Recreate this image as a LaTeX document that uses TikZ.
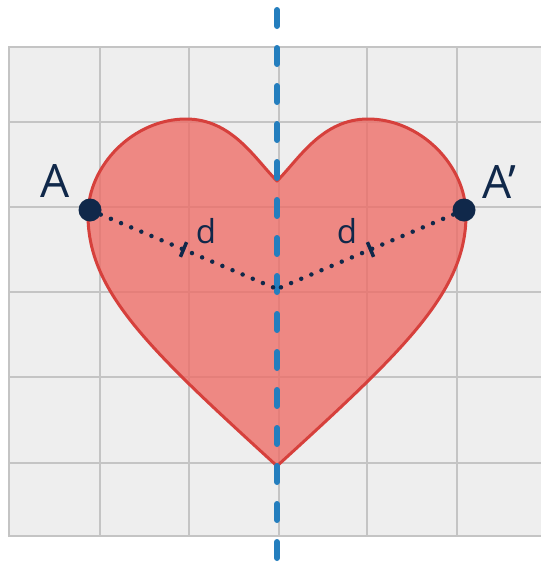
\documentclass[tikz,border=0pt]{standalone}
\usepackage{fontspec}
\setmainfont{Open Sans}
\usetikzlibrary{calc}
\definecolor{gridbg}{RGB}{238,238,238}
\definecolor{gridc}{RGB}{196,196,196}
\definecolor{heartfill}{RGB}{238,108,102}
\definecolor{heartline}{RGB}{214,64,60}
\definecolor{axisblue}{RGB}{36,126,190}
\definecolor{navy}{RGB}{16,40,74}
\begin{document}
\begin{tikzpicture}[x=1pt,y=-1pt,
  gridline/.style={draw=gridc, line width=1.8pt},
  heartstyle/.style={fill=heartfill, fill opacity=0.78, draw=heartline, draw opacity=1, line width=3pt, line join=round},
  axisline/.style={draw=axisblue, line width=6pt, line cap=round, dash pattern=on 16pt off 22pt},
  dotline/.style={draw=navy, line width=4.5pt, line cap=round, dash pattern=on 0pt off 11pt},
  ptstyle/.style={circle, fill=navy, inner sep=0pt, minimum size=23pt},
  tickmark/.style={draw=navy, line width=3.5pt},
  biglabel/.style={text=navy, inner sep=0pt, font=\fontsize{46}{50}\selectfont},
  dlabel/.style={text=navy, inner sep=0pt, font=\fontsize{33}{38}\selectfont}]
\useasboundingbox (0,0) rectangle (541,568);
\fill[white] (0,0) rectangle (541,568);
% grid
\begin{scope}
\clip (0,0) rectangle (541,568);
\filldraw[fill=gridbg, draw=gridc, line width=1.8pt] (9,47) rectangle (560,536);
\foreach \x in {100,189,279,367,457} \draw[gridline] (\x,47) -- (\x,536);
\foreach \y in {122,207,292,377,463} \draw[gridline] (9,\y) -- (560,\y);
\end{scope}
% heart
\path[heartstyle] (277,181)
  .. controls (255,159) and (232,119) .. (186,119)
  .. controls (134,119) and (88,165) .. (88,215)
  .. controls (88,292) and (150,350) .. (277,466)
  .. controls (404,350) and (466,292) .. (466,215)
  .. controls (466,165) and (420,119) .. (368,119)
  .. controls (322,119) and (299,159) .. (277,181) -- cycle;
% axis of symmetry
\coordinate (axtop) at (277,10);
\coordinate (axbot) at (277,563);
\draw[axisline] (axtop) -- (axbot);
% points
\coordinate (O) at (277,289);
\node[ptstyle] (A) at (90,210) {};
\node[ptstyle] (Ap) at (464,210) {};
\draw[dotline] (A) -- (O);
\draw[dotline] (Ap) -- (O);
\coordinate (mL) at ($(A.center)!0.5!(O)$);
\coordinate (mR) at ($(Ap.center)!0.5!(O)$);
\draw[tickmark] ($(mL)!8pt!90:(O)$) -- ($(mL)!8pt!-90:(O)$);
\draw[tickmark] ($(mR)!8pt!90:(O)$) -- ($(mR)!8pt!-90:(O)$);
% labels
\node[biglabel] (la) at (55,181) {A};
\node[biglabel] (lap) at (499,182) {A’};
\node[dlabel] (dl) at (206,231) {d};
\node[dlabel] (dr) at (347,231) {d};
\end{tikzpicture}
\end{document}
